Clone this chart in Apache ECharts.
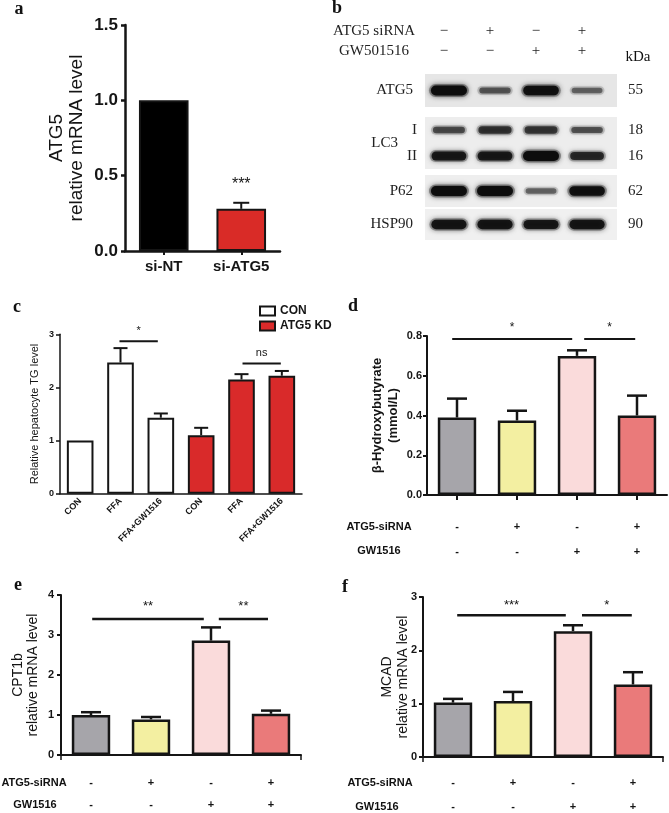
<!DOCTYPE html>
<html><head><meta charset="utf-8">
<script src="https://cdn.jsdelivr.net/npm/echarts@6/dist/echarts.min.js"></script>
<style>html,body{margin:0;padding:0;background:#fff}#c{width:669px;height:813px}</style>
</head><body><div id="c"></div>
<script>
// ---------- data ----------
const aCats = ['si-NT', 'si-ATG5'];
const aMean = [1.0, 0.28];
const aErrTop = [null, 0.32];
const aMarks = ['', '***'];
const aYTicks = ['0.0', '0.5', '1.0', '1.5'];

const cCats = ['CON', 'FFA', 'FFA+GW1516', 'CON', 'FFA', 'FFA+GW1516'];
const cCon = [1.0, 2.47, 1.43, '-', '-', '-'];
const cKd = ['-', '-', '-', 1.10, 2.15, 2.22];
const cMean = [1.0, 2.47, 1.43, 1.10, 2.15, 2.22];
const cErrTop = [null, 2.74, 1.51, 1.24, 2.25, 2.31];
const cYTicks = ['0', '1', '2', '3'];
const cSig = [[0.975, 1.925, 2.87, '*'], [4.025, 4.975, 2.45, 'ns']];
const cLegend = ['CON', 'ATG5 KD'];

const siRNA = ['-', '+', '-', '+'];
const gw = ['-', '-', '+', '+'];
const tableRows = ['ATG5-siRNA', 'GW1516'];

const dMean = [0.39, 0.375, 0.70, 0.40];
const dErrTop = [0.485, 0.424, 0.728, 0.50];
const dYTicks = ['0.0', '0.2', '0.4', '0.6', '0.8'];
const dSig = [[-0.08, 1.92, 0.785, '*'], [2.12, 2.97, 0.785, '*']];

const eMean = [1.0, 0.89, 2.86, 1.03];
const eErrTop = [1.07, 0.95, 3.19, 1.11];
const eYTicks = ['0', '1', '2', '3', '4'];
const eSig = [[0.02, 1.88, 3.4, '**'], [2.13, 2.95, 3.4, '**']];

const fMean = [1.02, 1.05, 2.36, 1.36];
const fErrTop = [1.09, 1.22, 2.47, 1.59];
const fYTicks = ['0', '1', '2', '3'];
const fSig = [[0.07, 1.88, 2.66, '***'], [2.15, 2.98, 2.66, '*']];

const groupColors = ['#a6a5aa', '#f3efa1', '#fadbdb', '#ea7a7a'];

// western blot
const blotHeaderRows = ['ATG5 siRNA', 'GW501516'];
const blotSiRNA = ['\u2212', '+', '\u2212', '+'];
const blotGW = ['\u2212', '\u2212', '+', '+'];
const blotATG5 = [[1.0, 0.42, 0.95, 0.35]];
const blotLC3 = [[0.5, 0.65, 0.62, 0.45], [0.85, 0.85, 1.0, 0.72]];
const blotP62 = [[1.0, 1.0, 0.35, 0.95]];
const blotHSP90 = [[0.9, 0.9, 0.88, 0.9]];
const blotNames = [['ATG5'], ['I', 'II'], ['P62'], ['HSP90']];
const blotKDa = [['55'], ['18', '16'], ['62'], ['90']];

// ---------- helpers ----------
const SANS = '"Liberation Sans", Arial, sans-serif';
const SERIF = '"Liberation Serif", "Times New Roman", serif';
const INK = '#151515';

function fmt(labels, min, step) {
  return v => { const k = Math.round((v - min) / step); return labels[k] !== undefined ? labels[k] : ''; };
}
function errSeries(ax, means, tops, capHalf, lw) {
  const data = [];
  tops.forEach((t, i) => { if (t != null) data.push([i, means[i], t]); });
  return {
    type: 'custom', xAxisIndex: ax, yAxisIndex: ax, z: 5, silent: true, data,
    encode: { x: 0, y: [1, 2] },
    renderItem(params, api) {
      const p0 = api.coord([api.value(0), api.value(1)]);
      const p1 = api.coord([api.value(0), api.value(2)]);
      return { type: 'group', children: [
        { type: 'line', shape: { x1: p0[0], y1: p0[1], x2: p1[0], y2: p1[1] }, style: { stroke: INK, lineWidth: lw } },
        { type: 'line', shape: { x1: p1[0] - capHalf, y1: p1[1], x2: p1[0] + capHalf, y2: p1[1] }, style: { stroke: INK, lineWidth: lw } }
      ] };
    }
  };
}
function sigSeries(ax, sig, font, gap, lw) {
  return {
    type: 'custom', xAxisIndex: ax, yAxisIndex: ax, z: 5, silent: true,
    data: sig.map(s => [0, s[2]]),
    encode: { x: 0, y: 1 },
    renderItem(params, api) {
      const s = sig[params.dataIndex];
      const base = api.coord([0, api.value(1)]);
      const bw = api.size([1, 0])[0];
      const x1 = base[0] + s[0] * bw, x2 = base[0] + s[1] * bw, y = base[1];
      return { type: 'group', children: [
        { type: 'line', shape: { x1, y1: y, x2, y2: y }, style: { stroke: INK, lineWidth: lw } },
        { type: 'text', style: { text: s[3], x: (x1 + x2) / 2, y: y - gap, align: 'center', verticalAlign: 'bottom', font, fill: INK } }
      ] };
    }
  };
}
function bandSeries(ax, rows) {
  const data = [];
  rows.forEach((row, r) => row.forEach((k, lane) => data.push([lane, r, k])));
  return {
    type: 'custom', xAxisIndex: ax, yAxisIndex: ax, silent: true, data,
    renderItem(params, api) {
      const p = api.coord([api.value(0), api.value(1)]);
      const k = api.value(2);
      const w = 28 + 8 * k, h = 3 + 7 * k;
      const a = 0.2 + 0.78 * k;
      return { type: 'group', children: [
        { type: 'rect', shape: { x: p[0] - w / 2 - 2, y: p[1] - h / 2 - 1.5, width: w + 4, height: h + 3, r: (h + 3) / 2 },
          style: { fill: 'rgba(30,30,30,' + (a * 0.35) + ')', shadowBlur: 6, shadowColor: 'rgba(30,30,30,' + (a * 0.5) + ')' } },
        { type: 'rect', shape: { x: p[0] - w / 2, y: p[1] - h / 2, width: w, height: h, r: h / 2 },
          style: { fill: 'rgba(12,12,12,' + a + ')', shadowBlur: 3 + 2 * k, shadowColor: 'rgba(12,12,12,' + (a * 0.8) + ')' } }
      ] };
    }
  };
}
function catX(gi, cats, o) {
  return {
    gridIndex: gi, type: 'category', data: cats,
    axisLine: { show: true, lineStyle: { color: INK, width: o.lw } },
    axisTick: o.tick,
    axisLabel: Object.assign({ interval: 0, color: INK, fontFamily: SANS, fontWeight: 'bold' }, o.label),
    splitLine: { show: false }
  };
}
function valY(gi, min, max, step, labels, o) {
  return {
    gridIndex: gi, type: 'value', min, max, interval: step,
    axisLine: { show: true, lineStyle: { color: INK, width: o.lw } },
    axisTick: { show: true, length: 4, lineStyle: { color: INK, width: o.lw } },
    axisLabel: { formatter: fmt(labels, min, step), color: INK, fontFamily: SANS, fontWeight: 'bold', fontSize: o.fs, margin: o.margin },
    splitLine: { show: false },
    name: o.name, nameLocation: 'middle', nameGap: o.nameGap, nameRotate: 90, nameMoveOverlap: false,
    nameTextStyle: { color: INK, fontFamily: SANS, fontSize: o.nfs, fontWeight: o.nfw, lineHeight: o.nlh, align: 'center' }
  };
}
function hiddenX(gi, min, max) {
  return { gridIndex: gi, type: 'value', min, max, show: false, splitLine: { show: false } };
}
function blotY(gi, names, pos, margin, extra) {
  return Object.assign({
    gridIndex: gi, type: 'category', data: names, inverse: true, position: pos, nameMoveOverlap: false,
    axisLine: { show: false }, axisTick: { show: false }, splitLine: { show: false },
    axisLabel: { color: '#222', fontFamily: SERIF, fontSize: 15, margin: margin }
  }, extra || {});
}

const grids = [
  { left: 125, top: 25, width: 155, height: 226 },          // a
  { left: 60, top: 334.3, width: 242, height: 159.4 },      // c
  { left: 427, top: 336, width: 240, height: 159 },         // d
  { left: 61, top: 595, width: 240, height: 160 },          // e
  { left: 423, top: 597, width: 240, height: 160 },         // f
  { left: 420, top: 21, width: 192, height: 40 },           // blot header
  { left: 425, top: 74, width: 192, height: 33, show: true, backgroundColor: '#e6e6e6', borderWidth: 0 },
  { left: 425, top: 117, width: 192, height: 52, show: true, backgroundColor: '#ededed', borderWidth: 0 },
  { left: 425, top: 175, width: 192, height: 32, show: true, backgroundColor: '#eeeeee', borderWidth: 0 },
  { left: 425, top: 209, width: 192, height: 31, show: true, backgroundColor: '#f0f0f0', borderWidth: 0 }
].map(g => Object.assign({ outerBoundsMode: 'none', containLabel: false }, g));

const LMIN = -0.52, LMAX = 3.65;

const xAxis = [
  catX(0, aCats, { lw: 2.5, tick: { show: true, alignWithLabel: true, length: 4, lineStyle: { color: INK, width: 2 } }, label: { fontSize: 15, margin: 8 } }),
  catX(1, cCats, { lw: 1.5, tick: { show: false }, label: { fontSize: 9, rotate: 45, margin: 6 } }),
  catX(2, siRNA, { lw: 2, tick: { show: true, alignWithLabel: true, length: 5, lineStyle: { color: INK, width: 2 } },
    label: { fontSize: 11, lineHeight: 25, margin: 19, formatter: (v, i) => siRNA[i] + '\n' + gw[i] } }),
  catX(3, siRNA, { lw: 2, tick: { show: true, length: 5, interval: (i) => i === 2, lineStyle: { color: INK, width: 1.5 } },
    label: { fontSize: 11, lineHeight: 22, margin: 17, formatter: (v, i) => siRNA[i] + '\n' + gw[i] } }),
  catX(4, siRNA, { lw: 2, tick: { show: true, length: 5, interval: (i) => i === 2, lineStyle: { color: INK, width: 1.5 } },
    label: { fontSize: 11, lineHeight: 24, margin: 14, formatter: (v, i) => siRNA[i] + '\n' + gw[i] } }),
  hiddenX(5, LMIN, LMAX),
  hiddenX(6, LMIN, LMAX),
  hiddenX(7, LMIN, LMAX),
  hiddenX(8, LMIN, LMAX),
  hiddenX(9, LMIN, LMAX)
];

const yAxis = [
  valY(0, 0, 1.5, 0.5, aYTicks, { lw: 2.5, fs: 17, margin: 7, name: 'ATG5\nrelative mRNA level', nameGap: 38, nfs: 19, nfw: 'normal', nlh: 20 }),
  valY(1, 0, 3, 1, cYTicks, { lw: 1.5, fs: 9, margin: 6, name: 'Relative hepatocyte TG level', nameGap: 19, nfs: 11, nfw: 'normal', nlh: 13 }),
  valY(2, 0, 0.8, 0.2, dYTicks, { lw: 2, fs: 11, margin: 5, name: '\u03b2-Hydroxybutyrate\n(mmol/L)', nameGap: 26, nfs: 13, nfw: 'bold', nlh: 16 }),
  valY(3, 0, 4, 1, eYTicks, { lw: 2, fs: 11, margin: 7, name: 'CPT1b\nrelative mRNA level', nameGap: 20, nfs: 14, nfw: 'normal', nlh: 15 }),
  valY(4, 0, 3, 1, fYTicks, { lw: 2, fs: 11, margin: 6, name: 'MCAD\nrelative mRNA level', nameGap: 12, nfs: 14, nfw: 'normal', nlh: 16 }),
  blotY(5, blotHeaderRows, 'left', 46, { axisLabel: { color: '#222', fontFamily: SERIF, fontSize: 15, margin: 46, align: 'center' } }),
  blotY(6, blotNames[0], 'left', 12),
  blotY(7, blotNames[1], 'left', 8, { name: 'LC3', nameLocation: 'middle', nameRotate: 0, nameGap: 27,
    nameTextStyle: { color: '#222', fontFamily: SERIF, fontSize: 15, align: 'right', verticalAlign: 'middle' } }),
  blotY(8, blotNames[2], 'left', 12),
  blotY(9, blotNames[3], 'left', 12),
  blotY(6, blotKDa[0], 'right', 11),
  blotY(7, blotKDa[1], 'right', 11),
  blotY(8, blotKDa[2], 'right', 11),
  blotY(9, blotKDa[3], 'right', 11)
];

const headerData = [];
blotSiRNA.forEach((s, lane) => headerData.push([lane, 0]));
blotGW.forEach((s, lane) => headerData.push([lane, 1]));

const series = [
  // a
  { type: 'bar', xAxisIndex: 0, yAxisIndex: 0, barWidth: '64%', silent: true,
    data: aMean.map((v, i) => ({ value: v, itemStyle: { color: i === 0 ? '#000' : '#d92b27', borderColor: INK, borderWidth: 2 } })) },
  errSeries(0, aMean, aErrTop, 8, 2),
  { type: 'custom', xAxisIndex: 0, yAxisIndex: 0, z: 6, silent: true,
    data: aErrTop.map((t, i) => [i, t == null ? aMean[i] : t]).filter((d, i) => aMarks[i]),
    renderItem(params, api) {
      const p = api.coord([api.value(0), api.value(1)]);
      return { type: 'text', style: { text: '***', x: p[0], y: p[1] - 10, align: 'center', verticalAlign: 'bottom', font: '16px ' + SANS, fill: INK } };
    } },
  // c
  { type: 'bar', name: cLegend[0], xAxisIndex: 1, yAxisIndex: 1, barWidth: '66%', barGap: '-100%', silent: true,
    data: cCon, itemStyle: { color: '#ffffff', borderColor: INK, borderWidth: 2 } },
  { type: 'bar', name: cLegend[1], xAxisIndex: 1, yAxisIndex: 1, barWidth: '66%', barGap: '-100%', silent: true,
    data: cKd, itemStyle: { color: '#d92a2a', borderColor: INK, borderWidth: 2 } },
  errSeries(1, cMean, cErrTop, 7, 2),
  sigSeries(1, cSig, '11px ' + SANS, 5, 2),
  // d
  { type: 'bar', xAxisIndex: 2, yAxisIndex: 2, barWidth: '64%', silent: true,
    data: dMean.map((v, i) => ({ value: v, itemStyle: { color: groupColors[i], borderColor: INK, borderWidth: 2.5 } })) },
  errSeries(2, dMean, dErrTop, 10, 2.5),
  sigSeries(2, dSig, '12px ' + SANS, 5, 2),
  // e
  { type: 'bar', xAxisIndex: 3, yAxisIndex: 3, barWidth: '64%', silent: true,
    data: eMean.map((v, i) => ({ value: v, itemStyle: { color: groupColors[i], borderColor: INK, borderWidth: 2.5 } })) },
  errSeries(3, eMean, eErrTop, 10, 2.5),
  sigSeries(3, eSig, '13px ' + SANS, 6, 2.5),
  // f
  { type: 'bar', xAxisIndex: 4, yAxisIndex: 4, barWidth: '64%', silent: true,
    data: fMean.map((v, i) => ({ value: v, itemStyle: { color: groupColors[i], borderColor: INK, borderWidth: 2.5 } })) },
  errSeries(4, fMean, fErrTop, 10, 2.5),
  sigSeries(4, fSig, '13px ' + SANS, 3, 2.5),
  // blot header
  { type: 'custom', xAxisIndex: 5, yAxisIndex: 5, silent: true, data: headerData,
    renderItem(params, api) {
      const p = api.coord([api.value(0), api.value(1)]);
      const d = headerData[params.dataIndex];
      const t = d[1] === 0 ? blotSiRNA[d[0]] : blotGW[d[0]];
      return { type: 'text', style: { text: t, x: p[0], y: p[1], align: 'center', verticalAlign: 'middle', font: '15px ' + SERIF, fill: '#222' } };
    } },
  bandSeries(6, blotATG5),
  bandSeries(7, blotLC3),
  bandSeries(8, blotP62),
  bandSeries(9, blotHSP90)
];

function txt(x, y, s, font, align) {
  return { type: 'text', x, y, style: { text: s, font, fill: '#111', align: align || 'center', verticalAlign: 'middle' } };
}
const LET = 'bold 18px ' + SERIF;
const TAB = 'bold 11px ' + SANS;
const graphic = [
  txt(19, 9, 'a', LET), txt(337, 8, 'b', LET), txt(17, 307, 'c', LET),
  txt(353, 306, 'd', LET), txt(18, 585, 'e', LET), txt(345, 587, 'f', LET),
  txt(638, 57, 'kDa', '15px ' + SERIF),
  txt(379, 527, tableRows[0], TAB), txt(379, 551, tableRows[1], TAB),
  txt(34, 783, tableRows[0], TAB), txt(35, 805, tableRows[1], TAB),
  txt(380, 783, tableRows[0], TAB), txt(377, 807, tableRows[1], TAB)
];

const chart = echarts.init(document.getElementById('c'), null, { renderer: 'canvas' });
chart.setOption({
  animation: false,
  backgroundColor: '#ffffff',
  grid: grids, xAxis, yAxis, series, graphic,
  legend: {
    orient: 'vertical', left: 254, top: 300, itemWidth: 15, itemHeight: 9, itemGap: 3, icon: 'rect',
    selectedMode: false,
    textStyle: { color: INK, fontFamily: SANS, fontWeight: 'bold', fontSize: 12 },
    data: [
      { name: cLegend[0], itemStyle: { color: '#ffffff', borderColor: INK, borderWidth: 2 } },
      { name: cLegend[1], itemStyle: { color: '#d92a2a', borderColor: INK, borderWidth: 2 } }
    ]
  }
});
</script></body></html>
